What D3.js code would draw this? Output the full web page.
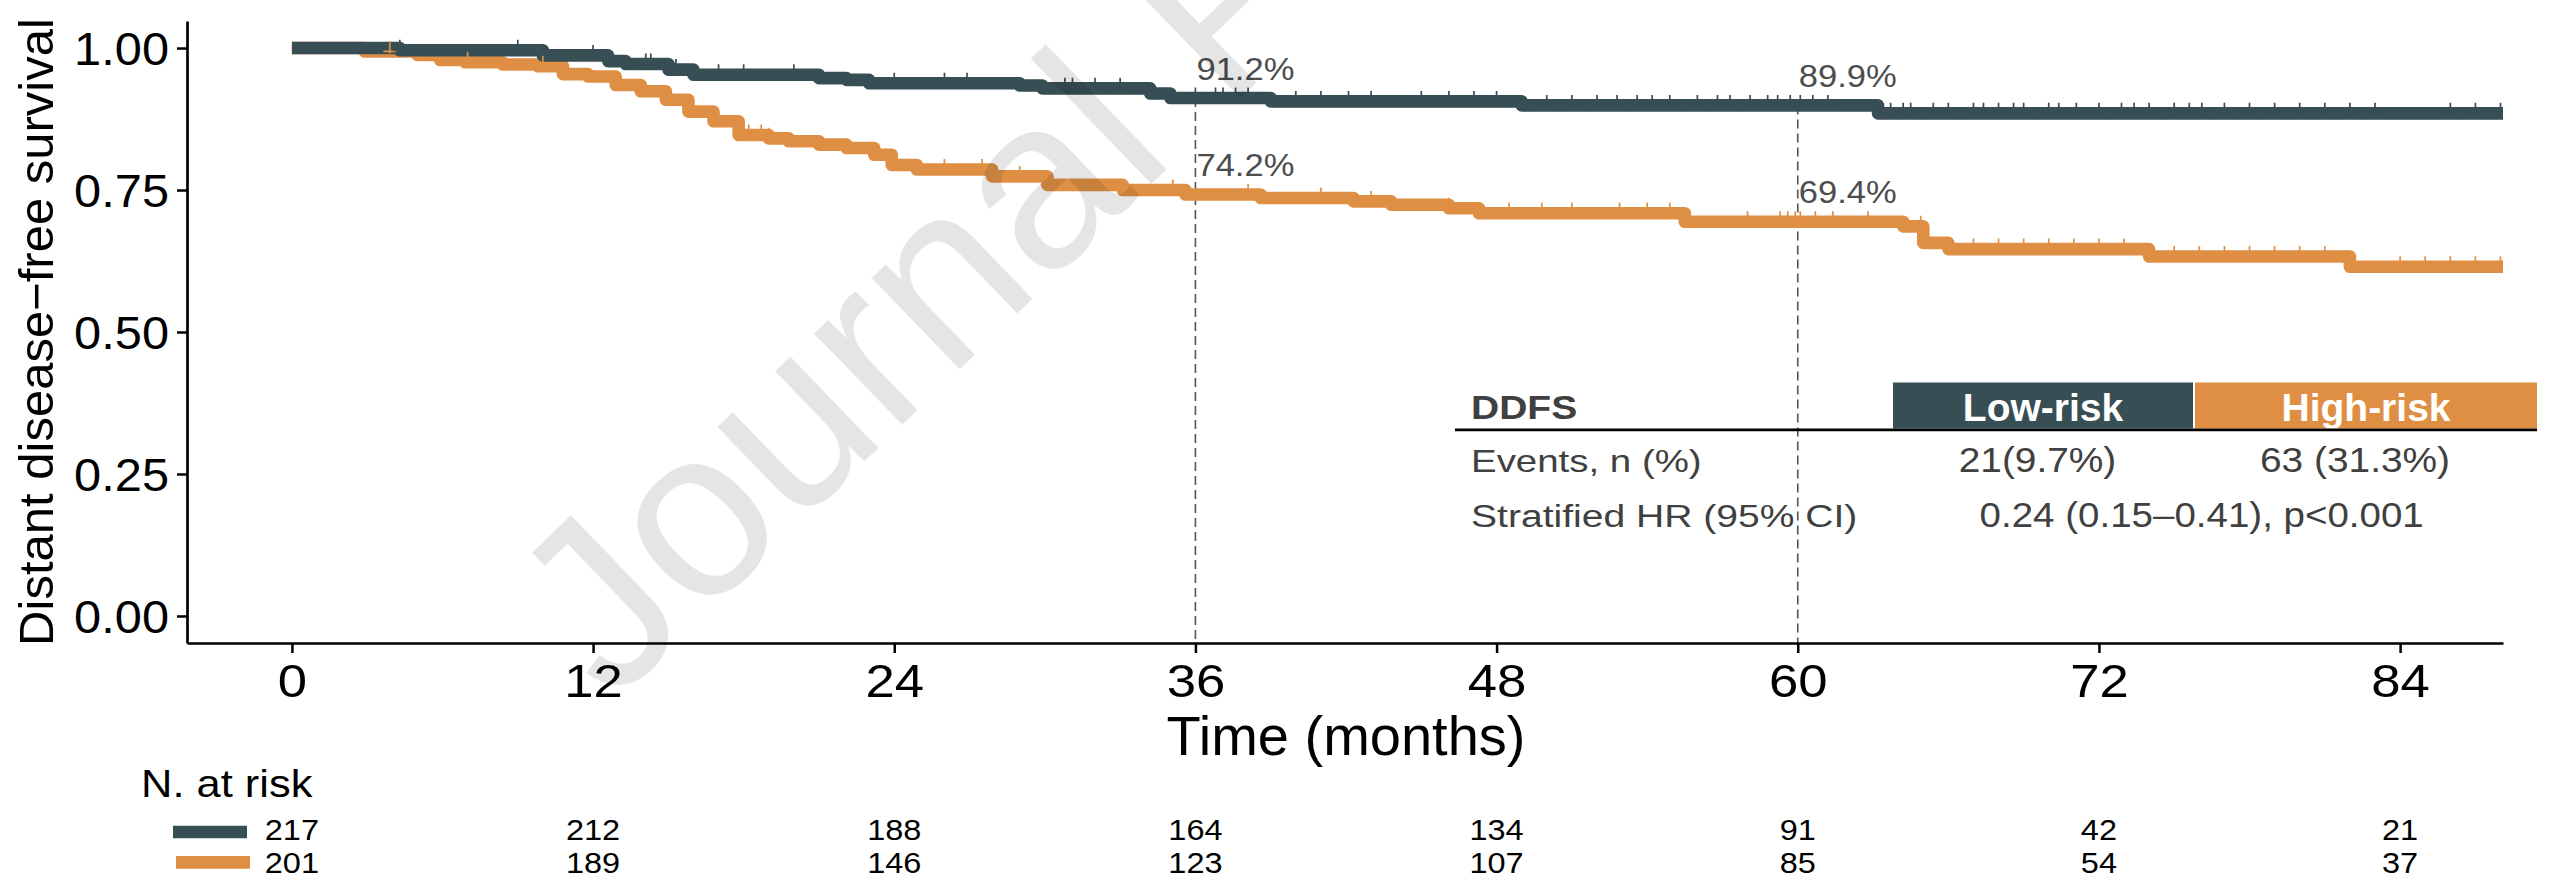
<!DOCTYPE html>
<html><head><meta charset="utf-8">
<script src="https://cdn.jsdelivr.net/npm/d3@7"></script>
<style>html,body{margin:0;padding:0;background:#fff;} svg{display:block;}</style>
</head><body>
<svg id="chart" width="2555" height="880"></svg>
<script>
// ---------------- DATA ----------------
const groupNames = ["Low-risk", "High-risk"];
const groupColors = ["#374E55", "#DF8F44"];

const lowTimes = [0, 4.3, 10.0, 12.6, 13.3, 15.0, 16.0, 21.0, 22.1, 23.0, 29.0, 29.9, 34.2, 35.0, 39.0, 49.0, 63.2];
const lowSurv  = [1.000, 0.996, 0.987, 0.977, 0.972, 0.962, 0.953, 0.947, 0.944, 0.938, 0.934, 0.929, 0.920, 0.912, 0.906, 0.899, 0.885];

const highTimes = [0, 2.9, 5.0, 5.9, 6.9, 8.4, 9.8, 10.8, 11.8, 12.9, 13.9, 14.9, 15.8, 16.8, 17.8, 19.0, 19.8, 21.0, 22.1, 23.2, 23.9, 24.9, 27.9, 30.1, 33.1, 35.6, 38.6, 42.3, 43.8, 46.1, 47.3, 55.5, 64.2, 65.0, 66.0, 74.0, 82.0];
const highSurv  = [1.000, 0.994, 0.988, 0.979, 0.975, 0.971, 0.968, 0.954, 0.950, 0.935, 0.924, 0.909, 0.888, 0.871, 0.847, 0.841, 0.836, 0.830, 0.824, 0.812, 0.794, 0.786, 0.774, 0.759, 0.750, 0.742, 0.736, 0.730, 0.724, 0.718, 0.709, 0.694, 0.686, 0.657, 0.646, 0.633, 0.615];

const lastFollowUp = 88.1;

const lowCensor = [4.3, 9.0, 12.0, 14.1, 14.3, 15.3, 17.0, 18.0, 20.0, 24.0, 26.0, 26.9, 30.8, 31.1, 32.0, 33.0, 36.0, 36.8, 37.1, 37.6, 38.1, 40.0, 41.0, 42.1, 43.0, 45.0, 46.1, 47.1, 48.0, 50.0, 51.0, 52.0, 52.8, 53.6, 54.2, 54.9, 56.0, 56.8, 57.3, 58.1, 58.8, 59.2, 59.7, 60.1, 60.6, 61.2, 63.7, 64.2, 64.5, 65.4, 66.0, 67.0, 67.4, 68.0, 68.6, 69.0, 70.0, 70.4, 71.1, 72.0, 72.9, 73.4, 74.0, 75.0, 75.6, 76.1, 77.0, 78.0, 79.0, 80.0, 81.0, 82.0, 83.0, 86.0, 87.0, 88.0];
const highCensor = [3.9, 7.0, 10.0, 18.2, 18.7, 19.0, 26.0, 27.5, 29.0, 30.1, 33.1, 35.1, 38.1, 41.0, 43.0, 46.1, 48.5, 49.8, 51.0, 52.9, 54.0, 54.9, 58.0, 59.3, 59.6, 59.9, 60.1, 60.7, 61.4, 62.8, 64.9, 67.0, 68.0, 69.0, 70.0, 71.0, 72.0, 73.0, 75.0, 76.0, 77.0, 78.0, 79.0, 80.0, 81.0, 84.0, 85.0, 86.0, 87.0, 88.0];

const landmarkTimes = [36, 60];

const xTicks = [0, 12, 24, 36, 48, 60, 72, 84];
const yTicks = [0, 0.25, 0.5, 0.75, 1.0];

const riskTimes = [0, 12, 24, 36, 48, 60, 72, 84];
const riskLow  = [217, 212, 188, 164, 134, 91, 42, 21];
const riskHigh = [201, 189, 146, 123, 107, 85, 54, 37];

const yTitle = "Distant disease\u2212free survival";
const xTitle = "Time (months)";
const riskTitle = "N. at risk";

const tableTitle = "DDFS";
const tableRowLabels = ["Events, n (%)", "Stratified HR (95% CI)"];
const tableEvents = ["21(9.7%)", "63 (31.3%)"];
const tableHR = "0.24 (0.15\u20130.41), p<0.001";

const watermark = "Journal Pre-proof";

// ---------------- LAYOUT ----------------
const FONT = '"Liberation Sans", Arial, Helvetica, sans-serif';
const svg = d3.select("#chart").style("font-family", FONT);
const L = 187, R = 2503, T = 21, B = 643;

const x = d3.scaleLinear().domain([-4.18, 88.1]).range([L, R]);
const y = d3.scaleLinear().domain([-0.0476, 1.0476]).range([B, T]);

function stretch(sel, f) {
  sel.each(function () {
    const len = this.getComputedTextLength();
    this.setAttribute("textLength", len * f);
    this.setAttribute("lengthAdjust", "spacingAndGlyphs");
  });
}

function stepAt(times, surv, t) {
  let v = surv[0];
  for (let i = 0; i < times.length; i++) { if (times[i] <= t) v = surv[i]; }
  return v;
}

const groups = [
  { times: lowTimes, surv: lowSurv, censor: lowCensor, color: groupColors[0] },
  { times: highTimes, surv: highSurv, censor: highCensor, color: groupColors[1] }
];

// clip
svg.append("defs").append("clipPath").attr("id", "panel")
  .append("rect").attr("x", L).attr("y", T).attr("width", R - L).attr("height", B - T);

// landmark dashed lines
const plot = svg.append("g");
plot.selectAll("line.lm").data(landmarkTimes).join("line")
  .attr("x1", d => x(d)).attr("x2", d => x(d))
  .attr("y1", d => y(stepAt(lowTimes, lowSurv, d))).attr("y2", B)
  .attr("stroke", "#555").attr("stroke-width", 1.6).attr("stroke-dasharray", "9,5");

// curves (high first, then low on top)
const line = d3.line().x(d => x(d[0])).y(d => y(d[1])).curve(d3.curveStepAfter);
const curveG = plot.append("g").attr("clip-path", "url(#panel)");
[groups[1], groups[0]].forEach(g => {
  const pts = g.times.map((t, i) => [t, g.surv[i]]);
  pts.push([lastFollowUp, g.surv[g.surv.length - 1]]);
  curveG.append("path").datum(pts).attr("d", line)
    .attr("fill", "none").attr("stroke", g.color).attr("stroke-width", 12.6)
    .attr("stroke-linejoin", "round").attr("stroke-linecap", "butt");
});
// censor marks
[groups[1], groups[0]].forEach(g => {
  curveG.append("g").selectAll("path").data(g.censor).join("path")
    .attr("d", t => {
      const cx = x(t), cy = y(stepAt(g.times, g.surv, t));
      return `M${cx - 6.5},${cy}H${cx + 6.5}M${cx},${cy - 10.5}V${cy + 2}`;
    })
    .attr("stroke", g.color).attr("stroke-width", 1.7).attr("fill", "none");
});

// landmark labels
const fmt = d3.format(".1%");
landmarkTimes.forEach(t => {
  groups.forEach(g => {
    const s = stepAt(g.times, g.surv, t);
    plot.append("text").attr("x", x(t) + 1).attr("y", y(s) - 18.5)
      .attr("font-size", 32).attr("fill", "#4d4d4d").text(fmt(s))
      .call(stretch, 1.08);
  });
});

// axes
const yAxis = svg.append("g").attr("transform", `translate(${L},0)`)
  .call(d3.axisLeft(y).tickValues(yTicks).tickFormat(d3.format(".2f")).tickSize(10).tickSizeOuter(0).tickPadding(8));
const xAxis = svg.append("g").attr("transform", `translate(0,${B})`)
  .call(d3.axisBottom(x).tickValues(xTicks).tickFormat(d3.format("d")).tickSize(10).tickSizeOuter(0).tickPadding(11));
[yAxis, xAxis].forEach(a => {
  a.select(".domain").attr("stroke", "#000").attr("stroke-width", 2.7);
  a.selectAll(".tick line").attr("stroke", "#000").attr("stroke-width", 2.5);
  a.selectAll("text").attr("fill", "#000").attr("font-family", FONT);
});
yAxis.selectAll("text").attr("font-size", 46).attr("dy", "0.35em").call(stretch, 1.06);
xAxis.selectAll("text").attr("font-size", 47).attr("dy", "0.71em").call(stretch, 1.12);

// axis titles
svg.append("text").attr("transform", `translate(53,332) rotate(-90)`)
  .attr("text-anchor", "middle").attr("font-size", 49).attr("fill", "#000").text(yTitle);
svg.append("text").attr("x", x(42)).attr("y", 755)
  .attr("text-anchor", "middle").attr("font-size", 56).attr("fill", "#000").text(xTitle);

// risk table
svg.append("text").attr("x", 141).attr("y", 797).attr("font-size", 39.5).attr("fill", "#000")
  .text(riskTitle).call(stretch, 1.1);
const riskRows = [
  { vals: riskLow, color: groupColors[0], base: 840, barX: 173, barY: 832 },
  { vals: riskHigh, color: groupColors[1], base: 873.3, barX: 176, barY: 862.3 }
];
riskRows.forEach(r => {
  svg.append("line").attr("x1", r.barX).attr("x2", r.barX + 74)
    .attr("y1", r.barY).attr("y2", r.barY)
    .attr("stroke", r.color).attr("stroke-width", 12.7);
  svg.append("g").selectAll("text").data(riskTimes).join("text")
    .attr("x", d => x(d)).attr("y", r.base).attr("text-anchor", "middle")
    .attr("font-size", 29).attr("fill", "#000")
    .text((d, i) => r.vals[i]).call(stretch, 1.12);
});

// summary table
const tb = svg.append("g");
const colCenters = [2043, 2366];
const boxes = [[1893, 2193], [2195, 2537]];
boxes.forEach((b, i) => {
  tb.append("rect").attr("x", b[0]).attr("y", 382.5).attr("width", b[1] - b[0]).attr("height", 46)
    .attr("fill", groupColors[i]);
  tb.append("text").attr("x", colCenters[i]).attr("y", 420.7).attr("text-anchor", "middle")
    .attr("font-size", 39).attr("font-weight", "bold").attr("fill", "#fff").text(groupNames[i]);
});
tb.append("line").attr("x1", 1455).attr("x2", 2537).attr("y1", 429.8).attr("y2", 429.8)
  .attr("stroke", "#000").attr("stroke-width", 2.8);
tb.append("text").attr("x", 1471).attr("y", 419.3).attr("font-size", 32.5).attr("font-weight", "bold")
  .attr("fill", "#404040").text(tableTitle).call(stretch, 1.2);
tb.append("text").attr("x", 1471).attr("y", 472).attr("font-size", 30.5)
  .attr("fill", "#404040").text(tableRowLabels[0]).call(stretch, 1.26);
tb.append("text").attr("x", 1471).attr("y", 526.7).attr("font-size", 31)
  .attr("fill", "#404040").text(tableRowLabels[1]).call(stretch, 1.26);
tableEvents.forEach((e, i) => {
  tb.append("text").attr("x", [2037.5, 2355][i]).attr("y", 472).attr("text-anchor", "middle")
    .attr("font-size", 35).attr("fill", "#404040").text(e).call(stretch, 1.11);
});
tb.append("text").attr("x", 2201.7).attr("y", 527).attr("text-anchor", "middle")
  .attr("font-size", 35).attr("fill", "#404040").text(tableHR).call(stretch, 1.1);

// watermark
svg.append("text").attr("transform", "translate(612,705) rotate(-44)")
  .attr("font-size", 240).attr("fill", "#000").attr("fill-opacity", 0.1).text(watermark);
</script>
</body></html>
